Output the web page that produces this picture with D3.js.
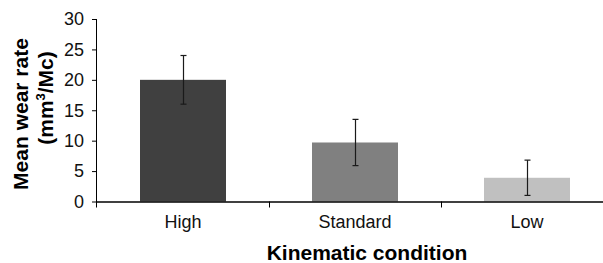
<!DOCTYPE html>
<html lang="en">
<head>
<meta charset="UTF-8">
<title>Mean wear rate by kinematic condition</title>
<script src="https://d3js.org/d3.v7.min.js"></script>
<style>
  body { margin: 0; background: #fff; font-family: Arial, "Liberation Sans", sans-serif; }
</style>
</head>
<body>
<div id="chart"></div>
<script>
// data
const categories = ["High", "Standard", "Low"];
const means = [20, 9.7, 3.9];
const errors = [4, 3.8, 2.9];
const barColors = ["#404040", "#808080", "#c0c0c0"];
const yTicks = [0, 5, 10, 15, 20, 25, 30];

const width = 603, height = 263;
// plot area runs a little past the right edge of the picture
const plotLeft = 97, plotRight = 613, plotTop = 19, plotBottom = 201.5;
const font = "Arial, 'Liberation Sans', sans-serif";

const svg = d3.select("#chart").append("svg")
    .attr("width", width)
    .attr("height", height)
    .attr("font-family", font);

const x = d3.scaleBand().domain(categories).range([plotLeft, plotRight]).paddingInner(0.5).paddingOuter(0.25);
const y = d3.scaleLinear().domain([0, 30]).range([plotBottom, plotTop]);

// bars
svg.selectAll("rect.bar")
    .data(categories)
    .enter().append("rect")
    .attr("class", "bar")
    .attr("x", d => x(d))
    .attr("y", (d, i) => y(means[i]))
    .attr("width", x.bandwidth())
    .attr("height", (d, i) => y(0) - y(means[i]))
    .attr("fill", (d, i) => barColors[i]);

// error bars
const eb = svg.append("g").attr("stroke", "#1a1a1a").attr("stroke-width", 1.2);
categories.forEach((c, i) => {
  const cx = Math.round(x(c) + x.bandwidth() / 2) + 0.5;
  const y1 = y(means[i] + errors[i]), y2 = y(means[i] - errors[i]);
  eb.append("line").attr("x1", cx).attr("x2", cx).attr("y1", y1).attr("y2", y2);
  eb.append("line").attr("x1", cx - 3).attr("x2", cx + 3).attr("y1", y1).attr("y2", y1);
  eb.append("line").attr("x1", cx - 3).attr("x2", cx + 3).attr("y1", y2).attr("y2", y2);
});

// y axis
const yAxis = svg.append("g")
    .attr("transform", `translate(${plotLeft},0)`)
    .call(d3.axisLeft(y).tickValues(yTicks).tickSize(5).tickPadding(8));
yAxis.select(".domain").attr("stroke", "#000").attr("d", `M-0.5,${plotTop}V${plotBottom + 6}`);
yAxis.selectAll("text").attr("font-size", 18).attr("font-family", font).attr("fill", "#111");

// x axis
const xg = svg.append("g").attr("transform", `translate(0,${plotBottom})`);
xg.append("line").attr("x1", plotLeft).attr("x2", width).attr("y1", 0.5).attr("y2", 0.5)
    .attr("stroke", "#000").attr("stroke-width", 1.5);
[1, 2].forEach(k => {
  const tx = Math.round(plotLeft + x.step() * k) + 0.5;
  xg.append("line").attr("x1", tx).attr("x2", tx).attr("y1", 0).attr("y2", 6).attr("stroke", "#000");
});
xg.selectAll("text.cat")
    .data(categories)
    .enter().append("text")
    .attr("class", "cat")
    .attr("x", d => x(d) + x.bandwidth() / 2)
    .attr("y", 26.5)
    .attr("text-anchor", "middle")
    .attr("font-size", 18)
    .attr("fill", "#111")
    .text(d => d);

// axis titles
svg.append("text")
    .attr("x", 367).attr("y", 260)
    .attr("text-anchor", "middle")
    .attr("font-size", 21).attr("font-weight", "bold")
    .text("Kinematic condition");

svg.append("text")
    .attr("transform", "translate(28,114) rotate(-90)")
    .attr("text-anchor", "middle")
    .attr("font-size", 21).attr("font-weight", "bold")
    .text("Mean wear rate");

const t2 = svg.append("text")
    .attr("transform", "translate(53,98) rotate(-90)")
    .attr("text-anchor", "middle")
    .attr("font-size", 21).attr("font-weight", "bold");
t2.append("tspan").text("(mm");
t2.append("tspan").attr("font-size", 13).attr("dy", -8).text("3");
t2.append("tspan").attr("dy", 8).text("/Mc)");
</script>
</body>
</html>
